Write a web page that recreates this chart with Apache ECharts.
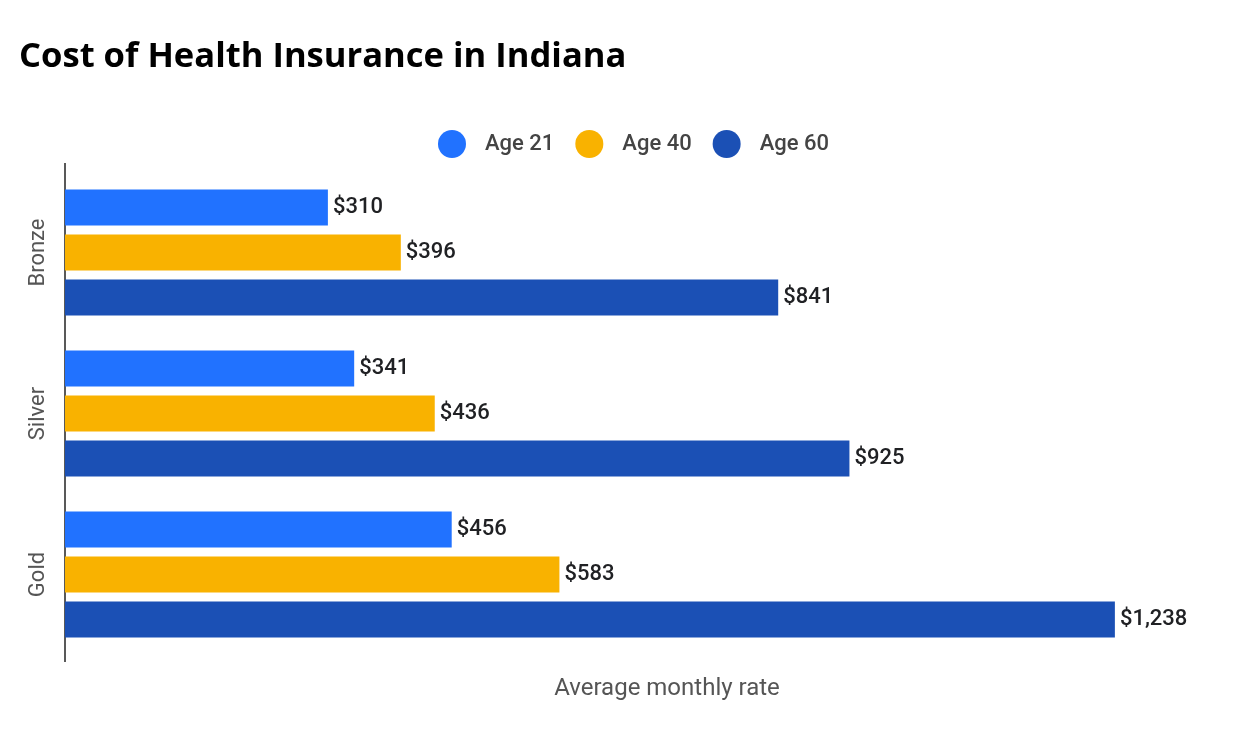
<!DOCTYPE html>
<html><head><meta charset="utf-8">
<script src="https://cdn.jsdelivr.net/npm/echarts@6/dist/echarts.min.js"></script>
<style>html,body{margin:0;padding:0;background:#fff}#c{width:1237px;height:733px}</style>
</head><body><div id="c"></div>
<script>
const categories = ['Bronze', 'Silver', 'Gold'];
const seriesNames = ['Age 21', 'Age 40', 'Age 60'];
const age21 = [310, 341, 456];
const age40 = [396, 436, 583];
const age60 = [841, 925, 1238];
const colors = ['#2172FF', '#F9B200', '#1B50B5'];

const chart = echarts.init(document.getElementById('c'));
const fmt = v => '$' + v.value.toLocaleString('en-US');
const mk = (name, data, color) => ({
  name, type: 'bar', data, barGap: '25%', barCategoryGap: '21.7%',
  itemStyle: { color },
  label: { show: true, position: 'right', distance: 5, formatter: fmt,
    fontFamily: 'Roboto', fontSize: 22, fontWeight: 500, color: '#202124' }
});
chart.setOption({
  animation: false,
  title: { text: 'Cost of Health Insurance in Indiana', left: 14, top: 35,
    textStyle: { fontFamily: 'Open Sans', fontWeight: 'bold', fontSize: 34.6, color: '#000' } },
  legend: { top: 125, left: 433, itemWidth: 28, itemHeight: 28, itemGap: 21, icon: 'circle',
    textStyle: { fontFamily: 'Roboto', fontSize: 22, fontWeight: 500, color: '#444', padding: [0, 0, 0, 14] } },
  grid: { left: 65, top: 172, right: 0, height: 483, containLabel: false },
  xAxis: { type: 'value', min: 0, max: 1382, show: true,
    axisLine: { show: false }, axisTick: { show: false }, axisLabel: { show: false }, splitLine: { show: false },
    name: 'Average monthly rate', nameLocation: 'middle', nameGap: 22,
    nameTextStyle: { fontFamily: 'Roboto', fontSize: 24, color: '#555', padding: [0, 0, 0, 32] } },
  yAxis: { type: 'category', data: categories, inverse: true,
    axisLine: { show: false }, axisTick: { show: false },
    axisLabel: { rotate: 90, margin: 16, fontFamily: 'Roboto', fontSize: 22, color: '#555' } },
  graphic: [{ type: 'line', shape: { x1: 65, y1: 163, x2: 65, y2: 662 }, style: { stroke: '#222', lineWidth: 1.5 } }],
  series: [mk(seriesNames[0], age21, colors[0]), mk(seriesNames[1], age40, colors[1]), mk(seriesNames[2], age60, colors[2])]
});
</script></body></html>
